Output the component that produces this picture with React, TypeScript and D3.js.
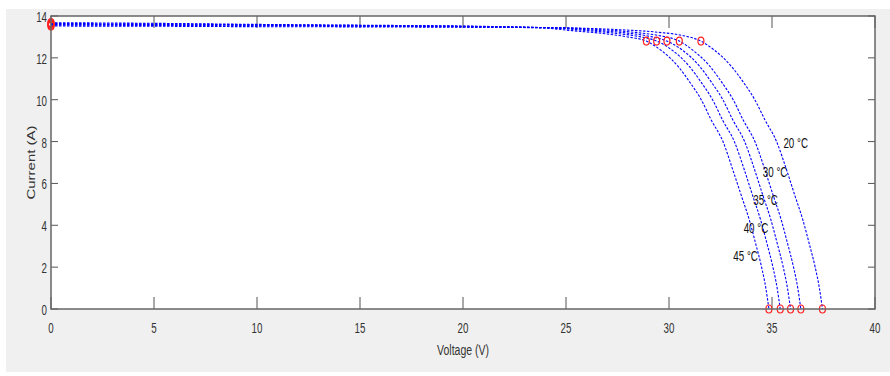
import React, { useEffect, useRef } from "react";
import * as d3 from "d3";

// temperatures of the five curves
const temps = ["20", "30", "35", "40", "45"];

// I-V points [voltage, current]
const curve20 = [[0,13.52],[5,13.51],[10,13.49],[15,13.48],[20,13.46],[25,13.43],[27.5,13.35],[29.5,13.22],[30.7,13.06],[31.55,12.8],[32.2,12.37],[33.04,11.58],[33.6,10.85],[34.17,9.99],[34.66,9.03],[35.23,7.98],[35.71,6.64],[36.1,5.45],[36.5,4.25],[36.8,3.15],[37.09,2.02],[37.3,1.0],[37.45,0]];
const curve30 = [[0,13.56],[5,13.55],[10,13.53],[15,13.51],[20,13.48],[25,13.43],[26.5,13.36],[28.5,13.2],[29.6,13.05],[30.5,12.8],[31.15,12.37],[32.0,11.58],[32.55,10.85],[33.12,9.99],[33.6,9.03],[34.18,7.98],[34.66,6.64],[35.05,5.45],[35.45,4.25],[35.75,3.15],[36.04,2.02],[36.25,1.0],[36.4,0]];
const curve35 = [[0,13.6],[5,13.59],[10,13.56],[15,13.53],[20,13.5],[25,13.42],[26.2,13.33],[28.0,13.18],[29.05,13.03],[29.9,12.8],[30.65,12.37],[31.5,11.58],[32.05,10.85],[32.62,9.99],[33.1,9.03],[33.68,7.98],[34.16,6.64],[34.55,5.45],[34.95,4.25],[35.25,3.15],[35.54,2.02],[35.75,1.0],[35.9,0]];
const curve40 = [[0,13.64],[5,13.62],[10,13.58],[15,13.55],[20,13.51],[24.5,13.42],[25.8,13.32],[27.5,13.16],[28.55,13.02],[29.4,12.8],[30.15,12.37],[31.0,11.58],[31.55,10.85],[32.12,9.99],[32.6,9.03],[33.18,7.98],[33.66,6.64],[34.05,5.45],[34.45,4.25],[34.75,3.15],[35.04,2.02],[35.25,1.0],[35.4,0]];
const curve45 = [[0,13.68],[5,13.65],[10,13.6],[15,13.56],[20,13.52],[24,13.42],[25.3,13.3],[27.0,13.14],[28.0,13.0],[28.9,12.8],[29.6,12.37],[30.45,11.58],[31.0,10.85],[31.57,9.99],[32.05,9.03],[32.63,7.98],[33.1,6.64],[33.5,5.45],[33.9,4.25],[34.2,3.15],[34.49,2.02],[34.7,1.0],[34.85,0]];
const curves = [curve20, curve30, curve35, curve40, curve45];

// marked points: short circuit, max power, open circuit
const iscValues = [13.52, 13.56, 13.6, 13.64, 13.68];
const mppV = [31.55, 30.5, 29.9, 29.4, 28.9];
const mppI = [12.8, 12.8, 12.8, 12.8, 12.8];
const vocValues = [37.45, 36.4, 35.9, 35.4, 34.85];

// where the temperature labels sit, in data units
const labelV = [36.15, 35.15, 34.69, 34.22, 33.72];
const labelI = [7.92, 6.56, 5.21, 3.86, 2.53];

const xTicks = [0, 5, 10, 15, 20, 25, 30, 35, 40];
const yTicks = [0, 2, 4, 6, 8, 10, 12, 14];

const W = 890;
const H = 376;
const margin = { left: 51, right: 15, top: 16, bottom: 67 };

const App = () => {
  const ref = useRef<SVGSVGElement>(null);

  useEffect(() => {
    const svg = d3.select(ref.current);
    svg.selectAll("*").remove();
    const font = "'Liberation Sans', Arial, sans-serif";

    const x = d3.scaleLinear().domain([0, 40]).range([margin.left, W - margin.right]);
    const y = d3.scaleLinear().domain([0, 14]).range([H - margin.bottom, margin.top]);
    const [x0, x1] = x.range();
    const [y0, y1] = y.range();

    //figure background
    svg.append("rect").attr("x", 6).attr("y", 9).attr("width", W - 6).attr("height", 363).attr("fill", "#f0f0f0");
    svg.append("rect").attr("x", x0).attr("y", y1).attr("width", x1 - x0).attr("height", y0 - y1).attr("fill", "#fff");

    //ticks on all four sides
    const tickColor = "#555";
    const g = svg.append("g");
    xTicks.forEach((t) => {
      g.append("line").attr("x1", x(t)).attr("x2", x(t)).attr("y1", y0).attr("y2", y0 - 12).attr("stroke", tickColor);
      g.append("line").attr("x1", x(t)).attr("x2", x(t)).attr("y1", y1).attr("y2", y1 + 12).attr("stroke", tickColor);
      g.append("text")
        .attr("transform", `translate(${x(t)},${y0 + 24}) scale(0.65,1)`)
        .attr("text-anchor", "middle")
        .style("font-family", font)
        .style("font-size", "15px")
        .attr("fill", "#333")
        .text(t);
    });
    yTicks.forEach((t) => {
      g.append("line").attr("x1", x0).attr("x2", x0 + 7).attr("y1", y(t)).attr("y2", y(t)).attr("stroke", tickColor);
      g.append("line").attr("x1", x1).attr("x2", x1 - 7).attr("y1", y(t)).attr("y2", y(t)).attr("stroke", tickColor);
      g.append("text")
        .attr("transform", `translate(${x0 - 4},${y(t) + 6}) scale(0.65,1)`)
        .attr("text-anchor", "end")
        .style("font-family", font)
        .style("font-size", "15px")
        .attr("fill", "#333")
        .text(t);
    });

    //curves
    const line = d3
      .line<number[]>()
      .curve(d3.curveMonotoneX)
      .x((d) => x(d[0]))
      .y((d) => y(d[1]));

    svg
      .selectAll(".iv")
      .data(curves)
      .enter()
      .append("path")
      .attr("class", "iv")
      .attr("fill", "none")
      .attr("stroke", "#0000ff")
      .attr("stroke-width", 1.1)
      .attr("stroke-dasharray", "2.5,1.5")
      .attr("d", (d) => line(d));

    //red markers
    const mark = (cx: number, cy: number) =>
      svg
        .append("ellipse")
        .attr("cx", cx)
        .attr("cy", cy)
        .attr("rx", 3)
        .attr("ry", 4)
        .attr("fill", "none")
        .attr("stroke", "#ff2020")
        .attr("stroke-width", 1.2);
    temps.forEach((_, i) => {
      mark(x(0), y(iscValues[i]));
      mark(x(mppV[i]), y(mppI[i]));
      mark(x(vocValues[i]), y(0));
    });

    //axes box
    svg.append("rect").attr("x", x0).attr("y", y1).attr("width", x1 - x0).attr("height", y0 - y1)
      .attr("fill", "none").attr("stroke", "#666").attr("stroke-width", 1.5);

    //temperature labels
    temps.forEach((t, i) => {
      svg.append("text")
        .attr("transform", `translate(${x(labelV[i])},${y(labelI[i]) + 5}) scale(0.7,1)`)
        .attr("text-anchor", "middle")
        .style("font-family", font)
        .style("font-size", "14px")
        .attr("fill", "#111")
        .text(`${t} °C`);
    });

    //axis titles
    svg.append("text")
      .attr("transform", `translate(${(x0 + x1) / 2},${y0 + 46}) scale(0.7,1)`)
      .attr("text-anchor", "middle")
      .style("font-family", font)
      .style("font-size", "15px")
      .attr("fill", "#333")
      .text("Voltage (V)");
    svg.append("text")
      .attr("transform", `translate(35,${(y0 + y1) / 2}) rotate(-90) scale(1,0.75)`)
      .attr("text-anchor", "middle")
      .style("font-family", font)
      .style("font-size", "15px")
      .attr("fill", "#333")
      .text("Current (A)");
  }, []);

  return (
    <svg ref={ref} width={W} height={H} style={{ position: "absolute", left: 0, top: 0, background: "#fff" }}></svg>
  );
};

export default App;
